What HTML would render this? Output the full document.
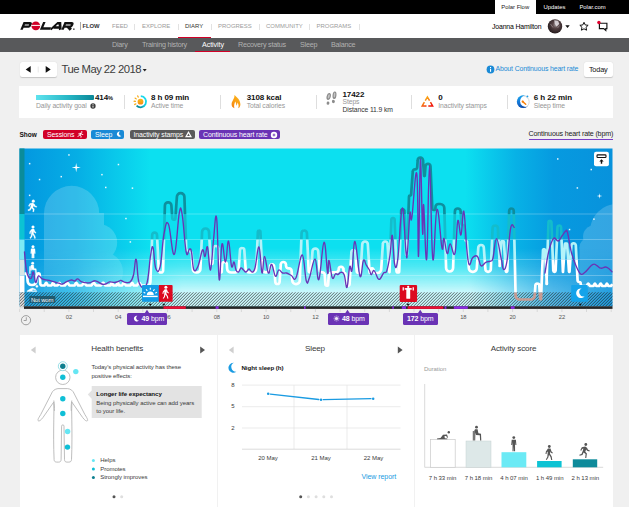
<!DOCTYPE html>
<html>
<head>
<meta charset="utf-8">
<title>Polar Flow</title>
<style>
*{box-sizing:border-box;margin:0;padding:0}
html,body{width:629px;height:507px;overflow:hidden;background:#f0f0f0;font-family:"Liberation Sans",sans-serif;color:#222}
div,span{position:absolute;white-space:nowrap}
#topbar{left:0;top:0;width:629px;height:14px;background:#000}
#topbar .tab{top:0;height:14px;font-size:5.9px;line-height:14px;color:#fff;text-align:center}
#topbar .tab.on{background:#fff;color:#222}
#header{left:0;top:14px;width:629px;height:24px;background:#fff}
.nav{top:0;height:24px;line-height:24.5px;font-size:5.95px;color:#9c9c9c;letter-spacing:.02px}
.nav.on{color:#333}
.sep{top:10px;width:1px;height:5.5px;background:#e2e2e2}
#sub{left:0;top:38px;width:629px;height:14px;background:#58595b}
.sn{top:0;height:13px;line-height:13.5px;font-size:7.2px;color:#b1b1b1;letter-spacing:-.25px}
.sn.on{color:#fff;letter-spacing:-.1px}
.btn{background:#fff;border-radius:2px;box-shadow:0 .5px 1px rgba(0,0,0,.18)}
.card{background:#fff}
.sv{font-weight:bold;font-size:8px;color:#111;line-height:8px;letter-spacing:-.1px}
.sl{font-size:6.8px;color:#979797;line-height:7px;letter-spacing:-.1px}
.vs{top:95px;width:1px;height:14px;background:#dedede}
.pill{top:129.5px;height:9.5px;border-radius:2px;color:#fff;font-size:6.950px;line-height:9.700px;padding-left:4px;letter-spacing:-.1px}
.ax{top:314px;font-size:5.8px;color:#555;line-height:6px;width:20px;text-align:center;letter-spacing:-.1px}
.tag{top:312.5px;height:12px;background:#6a33b5;border-radius:1.5px;color:#fff;font-size:7px;line-height:12px;letter-spacing:-.1px}
.tag b{font-weight:bold}
.ct{font-size:8.100px;color:#3a3a3a;line-height:10px;letter-spacing:-.150px}
.tx{font-size:6px;color:#3a3a3a;line-height:7px;letter-spacing:-.05px}
.dot{width:3px;height:3px;border-radius:50%;background:#dcdcdc}
</style>
</head>
<body>
<!-- TOP BAR -->
<div id="topbar">
  <div class="tab on" style="left:494.5px;width:41.5px">Polar Flow</div>
  <div class="tab" style="left:540px;width:29px">Updates</div>
  <div class="tab" style="left:576px;width:33px">Polar.com</div>
</div>
<!-- HEADER -->
<div id="header">
  <svg style="position:absolute;left:18px;top:6px" width="62" height="12" viewBox="18 20 62 12">
    <g transform="translate(0 29.700) skewX(-23) translate(0 -29.700)" fill="none" stroke="#111" stroke-width="2.450" stroke-linejoin="miter" stroke-linecap="butt">
      <path d="M21.500 29.700V23.200H26.600Q28.300 23.200 28.300 24.900Q28.300 26.600 26.600 26.600H22"/>
      <path d="M41.100 22V28.500H50"/>
      <path d="M50.600 29.700L54.800 23.200H57.200L60.300 29.700M53 27.500H59"/>
      <path d="M62.500 29.700V23.200H68.300Q70 23.200 70 24.900Q70 26.600 68.300 26.600H63M66.500 26.600L70.800 29.700"/>
    </g>
    <circle cx="35.800" cy="25.800" r="4.400" fill="#d10027"/>
    <rect x="31.200" y="24.900" width="9.200" height="1" fill="#fff"/>
    <rect x="73.200" y="28.500" width="1.300" height="1.300" fill="#111"/>
  </svg>
  <div style="left:79.5px;top:8px;width:1px;height:8px;background:#aaa"></div>
  <div style="left:82.5px;top:0;height:24px;line-height:25px;font-size:5.9px;font-weight:bold;color:#333;letter-spacing:-.1px">FLOW</div>
  <div class="nav" style="left:112px">FEED</div>
  <div class="sep" style="left:134px"></div>
  <div class="nav" style="left:142px">EXPLORE</div>
  <div class="sep" style="left:177.5px"></div>
  <div class="nav on" style="left:185px">DIARY</div>
  <div class="sep" style="left:210.5px"></div>
  <div class="nav" style="left:218px">PROGRESS</div>
  <div class="sep" style="left:258.5px"></div>
  <div class="nav" style="left:266px">COMMUNITY</div>
  <div class="sep" style="left:309px"></div>
  <div class="nav" style="left:316.5px">PROGRAMS</div>
  <div class="sep" style="left:358.5px"></div>
  <div style="left:178px;top:22.5px;width:33px;height:1.5px;background:#d10027"></div>
  <!-- user -->
  <div style="left:492px;top:0;height:24px;line-height:26px;font-size:6.9px;color:#000;letter-spacing:-.15px">Joanna Hamilton</div>
  <svg style="position:absolute;left:546px;top:4px" width="66" height="18" viewBox="546 18 66 18">
    <defs><radialGradient id="av" cx="55%" cy="40%" r="60%"><stop offset="0" stop-color="#a39a9c"/><stop offset=".35" stop-color="#5a4648"/><stop offset="1" stop-color="#241a1c"/></radialGradient></defs>
    <rect x="545" y="22" width=".8" height="8.500" fill="#ddd"/><circle cx="555" cy="26.400" r="7.200" fill="url(#av)"/>
    <path d="M554.300 20.200l3.800.600 1.200 3.200-2.700 2.600-2-3.200z" fill="#e8e2e6" opacity=".85"/><path d="M550.500 24l2.500 3.500M559.500 25.500l-2 2.500" stroke="#b9aeb2" stroke-width="1" opacity=".5"/>
    <path d="M565.3 25.2h4.4l-2.2 2.8z" fill="#111"/>
    <path d="M584 22.300l1.250 2.650 2.900.360-2.130 2 .560 2.900-2.580-1.400-2.580 1.400.560-2.900-2.130-2 2.900-.360z" fill="none" stroke="#111" stroke-width="1"/>
    <path d="M599.400 23.200h7.500v5.400h-1.100v1.900l-2.100-1.900h-4.300z" fill="none" stroke="#111" stroke-width="1.150"/>
    <circle cx="598.9" cy="22.5" r="1.7" fill="#e1002d"/>
  </svg>
</div>
<div id="sub">
  <div class="sn" style="left:112px">Diary</div>
  <div class="sn" style="left:142px">Training history</div>
  <div class="sn on" style="left:202px">Activity</div>
  <div class="sn" style="left:238px">Recovery status</div>
  <div class="sn" style="left:300px">Sleep</div>
  <div class="sn" style="left:331px">Balance</div>
  <div style="left:195px;top:12.5px;width:35px;height:1.5px;background:#d10027"></div>
</div>
<!-- DATE ROW -->
<div class="btn" style="left:19.5px;top:62px;width:37px;height:15px"></div>
<svg style="position:absolute;left:19px;top:62px" width="38" height="15" viewBox="19 62 38 15">
  <path d="M30.700 66v6.800l-5-3.400z" fill="#111"/><path d="M45.700 66v6.800l5-3.400z" fill="#111"/>
  <rect x="37.8" y="66.5" width=".7" height="6" fill="#ddd"/>
</svg>
<div style="left:61.5px;top:62px;height:15px;line-height:15.5px;font-size:11.300px;color:#3c3c3c;letter-spacing:-.540px">Tue May 22 2018</div>
<svg style="position:absolute;left:141px;top:66px" width="8" height="8" viewBox="0 0 8 8"><path d="M1.700 3h4l-2 2.500z" fill="#222"/></svg>
<svg style="position:absolute;left:486px;top:64.5px" width="9" height="9" viewBox="0 0 9 9"><circle cx="4.5" cy="4.5" r="3.9" fill="#1a8ad6"/><rect x="4" y="3.8" width="1.1" height="3" fill="#fff"/><rect x="4" y="2" width="1.1" height="1.1" fill="#fff"/></svg>
<div style="left:495.5px;top:62px;height:15px;line-height:14.5px;font-size:6.900px;color:#1a8ad6;letter-spacing:-.130px">About Continuous heart rate</div>
<div class="btn" style="left:584px;top:62px;width:28.5px;height:15px;text-align:center;font-size:7.3px;line-height:15.5px;color:#111;letter-spacing:-.15px">Today</div>
<!-- STATS BAR -->
<div class="card" style="left:19px;top:86px;width:593.5px;height:32px"></div>
<div style="left:36px;top:95px;width:57.5px;height:5.400px;border-radius:0 1px 1px 0;background:linear-gradient(90deg,#5fe3ee 0%,#27b7c6 55%,#0a8797 100%)"></div>
<div class="sv" style="left:95px;top:94.2px">414<span style="position:static;font-size:5.6px">%</span></div>
<div class="sl" style="left:36px;top:102.3px">Daily activity goal</div>
<svg style="position:absolute;left:90.100px;top:102.700px" width="6" height="6" viewBox="0 0 6 6"><circle cx="3" cy="3" r="2.650" fill="#3c3c3c"/><rect x="2.550" y="2.600" width=".9" height="2" fill="#fff"/><rect x="2.550" y="1.200" width=".9" height=".9" fill="#fff"/></svg>
<div class="vs" style="left:124px"></div>
<!-- sun icon -->
<svg style="position:absolute;left:132px;top:93px" width="17" height="17" viewBox="132 93 17 17">
  <defs><linearGradient id="sa" x1="1" y1="0" x2="0" y2="1"><stop offset="0" stop-color="#20e4f3"/><stop offset=".5" stop-color="#14c8de"/><stop offset=".8" stop-color="#0c93a4"/><stop offset="1" stop-color="#0b8595"/></linearGradient>
  <linearGradient id="sg" x1="0" y1="0" x2="0" y2="1"><stop offset="0" stop-color="#f9b51c"/><stop offset=".6" stop-color="#f8a314"/><stop offset="1" stop-color="#f5820f"/></linearGradient></defs>
  <path d="M140.800 96.100A5.600 5.600 0 1 1 136.600 105.700" fill="none" stroke="url(#sa)" stroke-width="1.800"/>
  <circle cx="140.500" cy="101.700" r="2.900" fill="url(#sg)"/>
  <g fill="#f8ac18"><ellipse cx="137.96" cy="96.49" rx="1.35" ry=".7" transform="rotate(-116 137.96 96.49)"/><ellipse cx="135.69" cy="98.46" rx="1.35" ry=".7" transform="rotate(-146 135.69 98.46)"/><ellipse cx="134.71" cy="101.30" rx="1.35" ry=".7" transform="rotate(-176 134.71 101.30)"/><ellipse cx="135.29" cy="104.24" rx="1.35" ry=".7" transform="rotate(154 135.29 104.24)"/></g>
</svg>
<div class="sv" style="left:151px;top:94.2px">8 h 09 min</div>
<div class="sl" style="left:151px;top:102.3px">Active time</div>
<div class="vs" style="left:220px"></div>
<!-- flame -->
<svg style="position:absolute;left:229px;top:93px" width="13" height="17" viewBox="229 93 13 17">
  <defs><linearGradient id="fg" x1=".7" y1="0" x2=".2" y2="1"><stop offset="0" stop-color="#fbb418"/><stop offset=".55" stop-color="#f99d14"/><stop offset="1" stop-color="#f5800f"/></linearGradient></defs>
  <path d="M234.400 94.900C236.600 96.800 240.600 100 240.400 104.500C240.300 106.300 239.600 107.700 238.300 108.200C238.900 106 238.600 104 237.400 102.500C237.400 104 237 105 236.300 105.700C236.300 103.800 235.900 102.400 235.200 101.600C234.600 103.500 233.600 105.600 234.400 108.200C232.500 107.700 231.500 106 231.600 104C231.800 100.500 234.900 98.500 234.400 94.900Z" fill="url(#fg)"/>
</svg>
<div class="sv" style="left:246.7px;top:94.2px">3108 kcal</div>
<div class="sl" style="left:246.7px;top:102.3px">Total calories</div>
<div class="vs" style="left:316px"></div>
<!-- steps -->
<svg style="position:absolute;left:324px;top:90px" width="15" height="17" viewBox="324 90 15 17">
  <g fill="#8c8c8c">
   <ellipse cx="328.700" cy="96.500" rx="2.050" ry="3.600" transform="rotate(14 328.700 96.500)"/><ellipse cx="328" cy="103.200" rx="1.400" ry="1.650" transform="rotate(10 328 103.200)"/>
   <ellipse cx="334.500" cy="95.200" rx="1.950" ry="3.800" transform="rotate(6 334.500 95.200)"/><ellipse cx="333.400" cy="101.500" rx="1.500" ry="1.650" transform="rotate(10 333.400 101.500)"/>
  </g>
  <g fill="#c4c4c4"><ellipse cx="328.800" cy="96.300" rx=".9" ry="2.200" transform="rotate(14 328.800 96.300)"/><ellipse cx="334.500" cy="95" rx=".8" ry="2.400" transform="rotate(6 334.500 95)"/></g>
</svg>
<div class="sv" style="left:342.5px;top:90.8px">17422</div>
<div class="sl" style="left:342.5px;top:98.200px">Steps</div>
<div class="sl" style="left:342.5px;top:105.900px;color:#333">Distance 11.9 km</div>
<div class="vs" style="left:411px"></div>
<!-- triangle -->
<svg style="position:absolute;left:420px;top:93px" width="15" height="16" viewBox="420 93 15 16">
  <defs><linearGradient id="tg" x1="0" y1="0" x2=".75" y2="1"><stop offset="0" stop-color="#fdc21a"/><stop offset=".45" stop-color="#f88a12"/><stop offset="1" stop-color="#f0150a"/></linearGradient></defs>
  <path d="M427.400 96.900L432.600 105.900H422.200Z" fill="none" stroke="url(#tg)" stroke-width="1.500" stroke-linejoin="miter" stroke-dasharray="4.300 1.800 8.600 1.800 8.600 1.800 4.300 0"/>
</svg>
<div class="sv" style="left:438.300px;top:94.200px">0</div>
<div class="sl" style="left:438.300px;top:102.300px">Inactivity stamps</div>
<div class="vs" style="left:507px"></div>
<!-- sleep clock -->
<svg style="position:absolute;left:515px;top:93px" width="16" height="17" viewBox="515 93 16 17">
  <defs><linearGradient id="mg" x1=".3" y1="0" x2=".5" y2="1"><stop offset="0" stop-color="#1aa5ee"/><stop offset=".5" stop-color="#1478d8"/><stop offset="1" stop-color="#0a48aa"/></linearGradient>
  <mask id="mm"><rect x="515" y="93" width="16" height="17" fill="#fff"/><circle cx="526" cy="101.200" r="5.900" fill="#000"/></mask></defs>
  <circle cx="523.300" cy="101.800" r="5.900" fill="none" stroke="#cfcfcf" stroke-width=".8"/>
  <circle cx="523.200" cy="101.700" r="6.400" fill="url(#mg)" mask="url(#mm)"/>
  <circle cx="527.400" cy="96.400" r=".95" fill="#1a9be8"/>
  <circle cx="522.700" cy="101.600" r="1.100" fill="#f77f0a"/>
  <path d="M522.700 101.600l3 2.600" stroke="#f77f0a" stroke-width="1.500" stroke-linecap="round"/>
</svg>
<div class="sv" style="left:533.800px;top:94.200px">6 h 22 min</div>
<div class="sl" style="left:533.800px;top:102.300px">Sleep time</div>
<!-- SHOW ROW -->
<div style="left:19.500px;top:129.500px;line-height:9.600px;font-size:6.500px;font-weight:bold;color:#111;letter-spacing:-.05px">Show</div>
<div class="pill" style="left:43px;width:43.500px;background:#d10027">Sessions</div>
<svg style="position:absolute;left:76.500px;top:131px" width="7.600" height="6.800" viewBox="0 0 9 8"><g fill="#fff"><circle cx="5.600" cy="1.200" r=".9"/><path d="M2.200 2.300l2.600-.3 1.300 1.500 1.400.3-.2.800-1.800-.3-.7-.7-.6 1.500 1.300 1.100-.5 1.700h-.9l.4-1.400-1.700-1.100-1.200 1.400-1.300-.4.300-.6.800.2 1.300-1.700.5-1.400-1 .1-.6 1-.6-.3z"/></g></svg>
<div class="pill" style="left:91px;width:33px;background:#1a8ad6">Sleep</div>
<svg style="position:absolute;left:116px;top:131.200px" width="6.500" height="6.500" viewBox="0 0 8 8"><path d="M4.800 .8a3.200 3.200 0 1 0 1.800 5.400a3 3 0 0 1 -1.800 -5.400z" fill="#fff"/></svg>
<div class="pill" style="left:129.500px;width:65px;background:#5a5a5a">Inactivity stamps</div>
<svg style="position:absolute;left:185px;top:131.200px" width="7" height="7" viewBox="0 0 8 8"><path d="M4 1.500l2.800 5h-5.600z" fill="none" stroke="#fff" stroke-width="1.400"/></svg>
<div class="pill" style="left:199px;width:80.500px;background:#6a33b5">Continuous heart rate</div>
<svg style="position:absolute;left:269.500px;top:130.600px" width="8" height="8" viewBox="0 0 9 9"><circle cx="4.500" cy="4.500" r="3.600" fill="#fff"/><path d="M4.500 2.300l.6 1.600 1.600.6-1.600.6-.6 1.600-.6-1.600-1.600-.6 1.600-.6z" fill="#6a33b5"/></svg>
<div style="left:528.500px;top:129.500px;line-height:9.600px;font-size:7.100px;color:#222;letter-spacing:-.150px">Continuous heart rate (bpm)</div>
<div style="left:528.500px;top:139px;width:84px;height:1.200px;background:#7a3fc5"></div>

<!-- CHART -->
<svg style="position:absolute;left:0;top:140px" width="629" height="190" viewBox="0 140 629 190">
<defs>
 <linearGradient id="bg" x1="24" x2="612.5" y1="0" y2="0" gradientUnits="userSpaceOnUse">
  <stop offset="0" stop-color="#0398e0"/><stop offset=".09" stop-color="#06aee5"/><stop offset=".215" stop-color="#0ce0f0"/><stop offset=".75" stop-color="#0ce0f0"/><stop offset=".835" stop-color="#08b2e6"/><stop offset=".9" stop-color="#069ae0"/><stop offset="1" stop-color="#0892dc"/>
 </linearGradient>
 <linearGradient id="wv" x1="0" x2="0" y1="148" y2="306" gradientUnits="userSpaceOnUse">
  <stop offset="0" stop-color="#fff" stop-opacity="0"/><stop offset=".63" stop-color="#fff" stop-opacity="0"/><stop offset=".75" stop-color="#fff" stop-opacity=".27"/><stop offset=".91" stop-color="#fff" stop-opacity=".78"/><stop offset="1" stop-color="#fff" stop-opacity=".8"/>
 </linearGradient>
 <linearGradient id="wh" x1="24" x2="612" y1="0" y2="0" gradientUnits="userSpaceOnUse">
  <stop offset="0" stop-color="#fff" stop-opacity=".15"/><stop offset=".08" stop-color="#fff" stop-opacity=".27"/><stop offset=".2" stop-color="#fff" stop-opacity=".72"/><stop offset=".27" stop-color="#fff" stop-opacity="1"/><stop offset=".76" stop-color="#fff" stop-opacity="1"/><stop offset=".88" stop-color="#fff" stop-opacity=".45"/><stop offset="1" stop-color="#fff" stop-opacity=".12"/>
 </linearGradient>
 <mask id="mh"><rect x="19" y="148" width="594" height="160" fill="url(#wh)"/></mask>
 <pattern id="hatch" x="0" y="0" width="3" height="3" patternUnits="userSpaceOnUse">
  <g fill="#1c1c1c" fill-opacity=".5"><rect x="2" y="0" width="1" height="1"/><rect x="1" y="1" width="1" height="1"/><rect x="0" y="2" width="1" height="1"/></g>
  <g fill="#1c1c1c" fill-opacity=".17"><rect x="1" y="0" width="1" height="1"/><rect x="0" y="1" width="1" height="1"/><rect x="2" y="2" width="1" height="1"/></g>
 </pattern>
 <linearGradient id="cg" x1="0" x2="0" y1="185" y2="300" gradientUnits="userSpaceOnUse"><stop offset="0" stop-color="#fff"/><stop offset=".55" stop-color="#fff"/><stop offset="1" stop-color="#000"/></linearGradient>
 <mask id="cm"><rect x="19" y="148" width="594" height="160" fill="url(#cg)"/></mask>
 <clipPath id="c1"><rect x="19" y="140" width="594" height="74"/></clipPath>
 <clipPath id="c2"><rect x="19" y="214" width="594" height="25.5"/></clipPath>
 <clipPath id="c3"><rect x="19" y="239.5" width="594" height="20"/></clipPath>
 <clipPath id="c4"><rect x="19" y="259.5" width="594" height="33"/></clipPath>
 <clipPath id="c5"><rect x="19" y="292.500" width="594" height="14"/></clipPath>
 <path id="act" d="M24.5 273.6 L25.8 273.6 A1.3 1.3 0 0 1 27.2 274.9 L27.6 281.0 A4.0 4.0 0 0 0 31.9 285.0 L32.1 285.0 A4.0 4.0 0 0 0 36.4 281.0 L36.8 274.6 A1.3 1.3 0 0 1 38.2 273.3 L38.2 273.3 A1.3 1.3 0 0 1 39.7 274.6 L40.3 283.7 A1.8 1.8 0 0 0 42.2 285.5 L44.0 285.5 L44.5 285.5 L45.1 284.6 L45.7 283.4 L46.3 282.9 L46.9 283.6 L47.5 284.8 L48.1 285.5 L48.7 285.5 L49.3 285.5 L49.9 285.5 L50.5 285.5 L51.1 285.5 L51.7 285.3 L52.3 284.0 L52.9 282.9 L53.5 283.4 L54.1 284.8 L54.7 285.5 L55.3 285.5 L55.9 285.5 L56.5 285.5 L57.1 285.5 L57.7 285.3 L58.3 284.3 L58.9 283.2 L59.5 282.9 L60.1 283.6 L60.7 284.8 L61.3 285.5 L61.9 285.5 L62.5 285.5 L63.1 285.5 L63.7 285.5 L64.3 285.5 L64.9 285.5 L65.5 284.9 L66.1 283.9 L66.7 283.1 L67.3 282.9 L67.9 283.3 L68.5 284.1 L69.1 285.1 L69.7 285.5 L70.3 285.5 L70.9 285.5 L71.5 285.5 L72.1 285.5 L72.7 285.5 L73.3 285.5 L73.9 285.5 L74.5 285.4 L75.1 284.5 L75.7 283.3 L76.3 282.9 L76.9 283.5 L77.5 284.6 L78.1 285.5 L78.7 285.5 L79.3 285.5 L79.9 285.5 L80.5 285.5 L81.1 285.5 L81.7 285.5 L82.3 285.0 L82.9 284.1 L83.5 283.3 L84.1 282.9 L84.7 283.2 L85.3 284.0 L85.9 284.9 L86.5 285.5 L87.1 285.5 L87.7 285.5 L88.3 285.5 L88.9 285.5 L89.5 285.5 L90.1 285.5 L90.7 285.5 L91.3 285.5 L91.9 284.9 L92.5 283.9 L93.1 283.2 L93.7 282.9 L94.3 283.3 L94.9 284.1 L95.5 285.0 L96.1 285.5 L96.7 285.5 L97.3 285.5 L97.9 285.5 L98.5 285.5 L99.1 285.5 L99.7 285.5 L100.3 285.5 L100.9 285.4 L101.5 284.7 L102.1 283.8 L102.7 283.1 L103.3 282.9 L103.9 283.4 L104.5 284.3 L105.1 285.2 L105.7 285.5 L106.3 285.5 L106.9 285.5 L107.5 285.5 L108.1 285.5 L108.7 285.5 L109.3 285.5 L109.9 285.5 L110.5 285.4 L111.1 284.0 L111.7 283.0 L112.3 283.3 L112.9 284.8 L113.5 285.5 L114.1 285.5 L114.7 285.5 L115.3 285.5 L115.9 285.5 L116.5 285.4 L117.1 283.9 L117.7 282.9 L118.3 283.7 L118.9 285.2 L119.5 285.5 L120.1 285.5 L120.7 285.5 L121.3 285.5 L121.9 285.5 L122.5 284.7 L123.1 283.7 L123.7 283.0 L124.3 283.0 L124.9 283.8 L125.5 284.8 L126.1 285.5 L126.7 285.5 L127.3 285.5 L127.9 285.5 L128.5 285.5 L129.1 285.5 L129.7 285.5 L130.3 285.5 L130.9 284.9 L131.5 283.6 L132.1 282.9 L132.7 283.5 L133.3 284.9 L133.9 285.5 L134.5 285.5 L135.1 285.5 L135.7 285.5 L136.3 285.5 L136.9 285.5 L137.5 284.7 L138.1 283.7 L138.7 283.1 L139.3 282.9 L139.9 283.4 L140.5 284.3 L141.1 285.2 L141.7 285.5 L142.3 285.5 L142.9 285.5 L143.5 285.5 L146.9 285.5 A3.4 3.4 0 0 0 150.4 282.1 L152.2 235.0 A2.3 2.3 0 0 1 154.6 232.7 L154.6 232.7 A2.3 2.3 0 0 1 157.0 235.0 L158.8 270.5 A2.0 2.0 0 0 0 160.9 272.5 L160.9 272.5 A2.0 2.0 0 0 0 163.1 270.5 L164.9 205.5 A3.1 3.1 0 0 1 168.1 202.4 L168.1 202.4 A3.1 3.1 0 0 1 171.4 205.5 L172.3 218.3 A1.4 1.4 0 0 0 173.8 219.7 L173.8 219.7 A1.4 1.4 0 0 0 175.4 218.3 L176.9 196.8 A3.6 3.6 0 0 1 180.7 193.2 L180.7 193.2 A3.6 3.6 0 0 1 184.4 196.8 L186.2 248.4 A2.6 2.6 0 0 0 188.9 251.0 L188.9 251.0 A2.6 2.6 0 0 1 191.7 253.6 L192.8 268.9 A3.6 3.6 0 0 0 196.6 272.5 L196.6 272.5 A3.6 3.6 0 0 0 200.4 268.9 L202.1 231.8 A3.3 3.3 0 0 1 205.5 228.5 L205.5 228.5 A3.3 3.3 0 0 1 209.0 231.8 L210.8 263.2 A0.8 0.8 0 0 0 211.6 264.0 L211.6 264.0 A0.8 0.8 0 0 0 212.4 263.2 L213.5 248.2 A2.2 2.2 0 0 1 215.8 246.0 L215.8 246.0 A2.2 2.2 0 0 1 218.2 248.2 L219.9 271.7 A0.8 0.8 0 0 0 220.8 272.5 L220.8 272.5 A0.8 0.8 0 0 0 221.7 271.7 L222.2 264.1 A2.1 2.1 0 0 1 224.5 262.0 L224.5 262.0 A2.1 2.1 0 0 1 226.8 264.1 L227.1 268.5 A4.0 4.0 0 0 0 231.4 272.5 L234.4 272.5 A4.0 4.0 0 0 0 238.7 268.5 L240.0 250.0 A2.0 2.0 0 0 1 242.2 248.0 L242.2 248.0 A2.0 2.0 0 0 1 244.3 250.0 L245.6 268.5 A4.0 4.0 0 0 0 249.9 272.5 L252.0 272.5 A4.0 4.0 0 0 0 256.2 268.5 L257.9 231.6 A1.2 1.2 0 0 1 259.1 230.5 L259.1 230.5 A1.2 1.2 0 0 1 260.4 231.6 L262.1 268.6 A3.7 3.7 0 0 0 266.0 272.3 L266.0 272.3 A3.7 3.7 0 0 0 270.0 268.6 L270.1 266.3 A1.9 1.9 0 0 1 272.1 264.4 L272.1 264.4 A1.9 1.9 0 0 1 274.1 266.3 L275.3 282.0 A2.0 2.0 0 0 0 277.4 284.0 L277.4 284.0 A2.0 2.0 0 0 0 279.6 282.0 L280.8 264.4 A2.4 2.4 0 0 1 283.4 262.0 L283.4 262.0 A2.4 2.4 0 0 1 285.9 264.4 L286.0 265.8 A2.6 2.6 0 0 0 288.8 268.4 L288.8 268.4 A2.6 2.6 0 0 1 291.6 271.0 L292.3 280.5 A3.6 3.6 0 0 0 296.1 284.1 L296.1 284.1 A3.6 3.6 0 0 0 299.8 280.5 L301.6 233.0 A2.6 2.6 0 0 1 304.2 230.5 L304.2 230.5 A2.6 2.6 0 0 1 306.9 233.0 L308.7 271.2 A1.1 1.1 0 0 0 309.9 272.3 L309.9 272.3 A1.1 1.1 0 0 0 311.0 271.2 L312.5 251.3 A2.7 2.7 0 0 1 315.4 248.6 L315.4 248.6 A2.7 2.7 0 0 1 318.2 251.3 L319.6 269.9 A2.4 2.4 0 0 0 322.1 272.3 L322.1 272.3 A2.4 2.4 0 0 1 324.7 274.7 L325.4 284.4 A1.3 1.3 0 0 0 326.8 285.7 L326.8 285.7 A1.3 1.3 0 0 0 328.1 284.4 L328.7 276.3 A4.0 4.0 0 0 1 333.0 272.3 L335.7 272.3 A2.8 2.8 0 0 0 338.7 269.6 L338.7 269.0 A2.2 2.2 0 0 1 341.1 266.8 L341.1 266.8 A2.2 2.2 0 0 1 343.4 269.0 L343.7 272.2 A0.8 0.8 0 0 0 344.5 273.0 L344.5 273.0 A0.8 0.8 0 0 1 345.4 273.8 L346.1 284.1 A1.6 1.6 0 0 0 347.9 285.7 L347.9 285.7 A1.6 1.6 0 0 0 349.6 284.1 L351.4 252.0 A1.8 1.8 0 0 1 353.3 250.2 L353.3 250.2 A1.8 1.8 0 0 1 355.3 252.0 L356.7 271.2 A1.8 1.8 0 0 0 358.7 273.0 L358.7 273.0 A1.8 1.8 0 0 0 360.6 271.2 L362.3 244.0 A2.6 2.6 0 0 1 365.1 241.5 L365.1 241.5 A2.6 2.6 0 0 1 367.8 244.0 L369.6 272.6 A0.4 0.4 0 0 0 370.0 273.0 L370.0 273.0 A0.4 0.4 0 0 0 370.4 272.6 L370.6 269.7 A1.3 1.3 0 0 1 372.0 268.4 L372.0 268.4 A1.3 1.3 0 0 1 373.4 269.7 L373.5 270.7 A2.3 2.3 0 0 0 376.0 273.0 L377.3 273.0 A3.7 3.7 0 0 0 381.2 269.3 L382.9 243.7 A2.2 2.2 0 0 1 385.2 241.5 L385.2 241.5 A2.2 2.2 0 0 1 387.5 243.7 L389.4 272.0 A0.1 0.1 0 0 0 389.4 272.0 L389.4 272.0 A0.1 0.1 0 0 0 389.5 272.0 L391.4 219.5 A1.5 1.5 0 0 1 393.0 218.0 L393.0 218.0 A1.5 1.5 0 0 1 394.6 219.5 L396.5 271.2 A1.3 1.3 0 0 0 397.9 272.5 L397.9 272.5 A1.3 1.3 0 0 0 399.2 271.2 L401.2 210.9 A1.5 1.5 0 0 1 402.7 209.4 L402.7 209.4 A1.5 1.5 0 0 1 404.3 210.9 L406.2 254.6 A0.4 0.4 0 0 0 406.6 255.0 L406.6 255.0 A0.4 0.4 0 0 0 407.0 254.6 L409.0 196.6 A1.0 1.0 0 0 1 410.0 195.6 L410.0 195.6 A1.0 1.0 0 0 0 411.1 194.6 L412.8 171.4 A2.1 2.1 0 0 1 415.0 169.3 L415.0 169.3 A2.1 2.1 0 0 0 417.2 167.2 L417.7 160.2 A2.5 2.5 0 0 1 420.4 157.7 L420.4 157.7 A2.5 2.5 0 0 1 423.0 160.2 L424.1 175.7 A0.3 0.3 0 0 0 424.5 176.0 L424.5 176.0 A0.3 0.3 0 0 0 424.8 175.7 L425.5 166.2 A2.4 2.4 0 0 1 428.0 163.8 L428.0 163.8 A2.4 2.4 0 0 1 430.5 166.2 L432.3 208.6 A1.4 1.4 0 0 0 433.8 210.0 L433.8 210.0 A1.4 1.4 0 0 0 435.4 208.6 L435.5 207.0 A3.0 3.0 0 0 1 438.7 204.0 L440.2 204.0 A4.0 4.0 0 0 1 444.3 208.0 L446.1 268.1 A3.4 3.4 0 0 0 449.6 271.5 L449.6 271.5 A3.4 3.4 0 0 0 453.1 268.1 L454.9 211.2 A2.7 2.7 0 0 1 457.7 208.5 L457.7 208.5 A2.7 2.7 0 0 1 460.6 211.2 L461.5 223.6 A1.4 1.4 0 0 0 463.0 225.0 L463.0 225.0 A1.4 1.4 0 0 1 464.5 226.4 L465.5 240.3 A0.7 0.7 0 0 0 466.3 241.0 L466.3 241.0 A0.7 0.7 0 0 1 467.0 241.7 L468.8 268.0 A3.8 3.8 0 0 0 472.8 271.8 L472.8 271.8 A3.8 3.8 0 0 0 476.8 268.0 L478.3 247.6 A2.6 2.6 0 0 1 481.1 245.0 L481.1 245.0 A2.6 2.6 0 0 1 483.8 247.6 L485.4 269.2 A2.6 2.6 0 0 0 488.1 271.8 L488.1 271.8 A2.6 2.6 0 0 0 490.8 269.2 L492.6 228.0 A2.6 2.6 0 0 1 495.2 225.5 L495.2 225.5 A2.6 2.6 0 0 1 497.9 228.0 L499.8 265.9 A0.1 0.1 0 0 1 499.7 266.0 L499.7 266.0 A0.1 0.1 0 0 1 499.6 265.9 L501.3 242.2 A1.2 1.2 0 0 1 502.6 241.0 L502.6 241.0 A1.2 1.2 0 0 1 503.9 242.2 L505.8 271.1 A0.8 0.8 0 0 0 506.6 271.8 L506.6 271.8 A0.8 0.8 0 0 0 507.3 271.1 L509.2 210.7 A2.2 2.2 0 0 1 511.5 208.5 L511.5 208.5 A2.2 2.2 0 0 1 513.7 210.7 L515.6 295.5 A4.0 4.0 0 0 0 519.7 299.5 L530.4 299.5 A4.0 4.0 0 0 0 534.7 295.5 L535.4 285.4 A1.8 1.8 0 0 1 537.4 283.6 L537.4 283.6 A1.8 1.8 0 0 1 539.3 285.4 L540.2 299.1 A0.4 0.4 0 0 0 540.6 299.5 L540.6 299.5 A0.4 0.4 0 0 0 541.0 299.1 L543.0 250.1 A0.9 0.9 0 0 1 544.0 249.2 L544.0 249.2 A0.9 0.9 0 0 1 545.0 250.1 L546.9 283.8 A0.2 0.2 0 0 1 546.7 284.0 L546.7 284.0 A0.2 0.2 0 0 1 546.5 283.8 L548.5 222.2 A1.4 1.4 0 0 1 549.9 220.8 L549.9 220.8 A1.4 1.4 0 0 1 551.4 222.2 L553.3 270.7 A1.2 1.2 0 0 0 554.5 271.8 L554.5 271.8 A1.2 1.2 0 0 0 555.6 270.7 L557.5 227.1 A1.6 1.6 0 0 1 559.2 225.5 L559.2 225.5 A1.6 1.6 0 0 1 561.0 227.1 L562.9 271.8 A0.1 0.1 0 0 0 563.0 271.8 L563.0 271.8 A0.1 0.1 0 0 0 563.0 271.8 L564.9 244.3 A1.0 1.0 0 0 1 566.0 243.3 L566.0 243.3 A1.0 1.0 0 0 1 567.1 244.3 L569.0 271.6 A0.2 0.2 0 0 0 569.2 271.8 L569.2 271.8 A0.2 0.2 0 0 0 569.5 271.6 L571.4 245.4 A2.1 2.1 0 0 1 573.6 243.3 L573.6 243.3 A2.1 2.1 0 0 1 575.8 245.4 L577.6 280.6 A1.4 1.4 0 0 0 579.1 282.0 L579.1 282.0 A1.4 1.4 0 0 1 580.7 283.4 L580.7 284.0 A2.0 2.0 0 0 0 582.8 286.0 L586.0 286.0 L586.5 286.0 L587.1 285.2 L587.7 284.0 L588.3 283.6 L588.9 284.2 L589.5 285.4 L590.1 286.0 L590.7 286.0 L591.3 286.0 L591.9 286.0 L592.5 286.0 L593.1 286.0 L593.7 285.8 L594.3 284.4 L594.9 283.6 L595.5 284.4 L596.1 285.8 L596.7 286.0 L597.3 286.0 L597.9 286.0 L598.5 286.0 L599.1 286.0 L599.7 284.9 L600.3 283.8 L600.9 283.7 L601.5 284.7 L602.1 285.9 L602.7 286.0 L603.3 286.0 L603.9 286.0 L604.5 286.0 L605.1 286.0 L605.7 285.9 L606.3 284.5 L606.9 283.6 L607.5 284.3 L608.1 285.8 L608.7 286.0 L609.3 286.0 L609.9 286.0 L610.5 286.0 L611.1 286.0 L611.7 285.1 L612.3 284.1"/>
 <clipPath id="cc"><rect x="24.500" y="148.500" width="588" height="158"/></clipPath>
</defs>
<rect x="19.500" y="148.500" width="593" height="158" fill="url(#bg)"/>
<g clip-path="url(#cc)">
 <!-- clouds -->
 <g opacity=".18" fill="#fff" mask="url(#cm)">
  <circle cx="71.600" cy="213.400" r="27.600"/><circle cx="98.700" cy="242.600" r="18.500"/><circle cx="103" cy="272" r="20"/>
  <rect x="44" y="213" width="60" height="95"/>
  <circle cx="617" cy="231" r="27"/><circle cx="594" cy="236.500" r="11"/><circle cx="588.500" cy="247" r="9"/>
  <rect x="579.500" y="247" width="40" height="60"/>
 </g>
 <rect x="19" y="148" width="594" height="158.500" fill="url(#wv)" mask="url(#mh)"/>
 <g stroke="#fff" stroke-opacity=".38" stroke-width=".7">
  <path d="M24 214h589M24 239.500h589M24 259.500h589M24 275.500h589"/>
 </g>
 <rect x="68.2" y="154.2" width="1.5" height="1.5" fill="#fff" opacity=".9"/><rect x="28.9" y="162.9" width="1.5" height="1.5" fill="#fff" opacity=".9"/><rect x="38.8" y="178.8" width="1.5" height="1.5" fill="#fff" opacity=".9"/><rect x="60.5" y="175.9" width="1.5" height="1.5" fill="#fff" opacity=".9"/><rect x="101.2" y="173.9" width="1.5" height="1.5" fill="#fff" opacity=".9"/><rect x="117.7" y="163.8" width="1.5" height="1.5" fill="#fff" opacity=".9"/><rect x="105.0" y="186.7" width="1.5" height="1.5" fill="#fff" opacity=".9"/><rect x="131.7" y="187.4" width="1.5" height="1.5" fill="#fff" opacity=".9"/><rect x="28.9" y="194.6" width="1.5" height="1.5" fill="#fff" opacity=".9"/><rect x="125.2" y="217.8" width="1.5" height="1.5" fill="#fff" opacity=".9"/><rect x="129.6" y="241.2" width="1.5" height="1.5" fill="#fff" opacity=".9"/><rect x="151.2" y="250.9" width="1.5" height="1.5" fill="#fff" opacity=".9"/><rect x="557.0" y="158.2" width="1.5" height="1.5" fill="#fff" opacity=".9"/><rect x="590.5" y="168.8" width="1.5" height="1.5" fill="#fff" opacity=".9"/><rect x="576.6" y="187.2" width="1.5" height="1.5" fill="#fff" opacity=".9"/><rect x="593.2" y="218.4" width="1.5" height="1.5" fill="#fff" opacity=".9"/><rect x="568.8" y="228.8" width="1.5" height="1.5" fill="#fff" opacity=".9"/><path d="M76.2 163.0L76.94 166.86L80.8 167.6L76.94 168.34L76.2 172.2L75.46 168.34L71.6 167.6L75.46 166.86Z" fill="#fff"/><path d="M599.5 193.2L599.95 195.55L602.3 196.0L599.95 196.45L599.5 198.8L599.05 196.45L596.7 196.0L599.05 195.55Z" fill="#fff"/>
</g>
<!-- left strip -->
<rect x="19.500" y="148.500" width="5" height="65.500" fill="#0b8c9a"/>
<rect x="19.500" y="214" width="5" height="25.500" fill="#0cc3d3"/>
<rect x="19.500" y="239.500" width="5" height="20" fill="#7ceaf4"/>
<rect x="19.500" y="259.500" width="5" height="16" fill="#d6e6e6"/>
<rect x="19.500" y="275.500" width="5" height="17" fill="#fff"/>
<rect x="19.500" y="292.300" width="5" height="16.200" fill="#ddd"/>
<!-- hatch -->
<rect x="19.500" y="292.300" width="593" height="14.200" fill="url(#hatch)"/>
<!-- activity icons (white) -->
<g fill="#fff" stroke="#fff" stroke-width=".35" stroke-linejoin="round" transform="translate(1.500 0)">
 <!-- runner -->
 <circle cx="31.800" cy="201.200" r="1.350"/>
 <path d="M28.300 203.600l3-.7 1.600 1.200.9 1.800 1.500.4-.3 1-2-.5-.9-1.300-.7 2 1.400 1.500-.5 2.800-1 -.1.300-2.300-1.700-1.400-1 2.200-2.300.5-.2-1 1.700-.5 1.100-2.700.5-1.900-1.100.3-.7 1.500-.9-.4z"/>
 <!-- walker -->
 <circle cx="31.500" cy="227" r="1.350"/>
 <path d="M30.300 228.900h2.200l.9 2.600 1.200 1-.5.800-1.500-1.100-.4-1 -.2 2.200 1.500 2.500.5 2.300-1 .2-.6-2.200-1.300-1.900-.6 2.300-1.400 1.900-.8-.6 1.300-1.800.5-4.800-.9.800-.3 1.600-.9-.2.400-2.100z"/>
 <!-- standing -->
 <circle cx="31.500" cy="246.800" r="1.350"/>
 <path d="M29.600 248.800h3.800l.4 4.600h-.9l-.3-2.600.1 7.300h-1l-.2-4.300-.2 4.300h-1l.1-7.300-.3 2.600h-.9z"/>
 <!-- sitting -->
 <circle cx="31.200" cy="263.300" r="1.300"/>
 <path d="M29.800 265.100h2.300l.5 3.400 2.100.3.400 4.800h-1l-.3-3.600-3.100-.2-.4-2.300-.2 2.800h-1l.1-4.200z M28 266.500h.8v7.100h-.8z"/>
 <!-- lying -->
 <circle cx="35.400" cy="286.300" r="1.150"/>
 <path transform="translate(0 1.700)" d="M25.500 289.300l3.500-2.200 2-.7 3.200 1.200-.3.800-2.600-.5-.5 1.300 4.200-.3.400 1h-9.900z"/>
</g>
<!-- activity line zones -->
<g fill="none" stroke-width="2.700" stroke-linejoin="round">
 <g clip-path="url(#c1)"><use href="#act" stroke="#0f8b9a" stroke-opacity=".96"/></g>
 <g clip-path="url(#c2)"><use href="#act" stroke="#14bccb"/></g>
 <g clip-path="url(#c3)"><use href="#act" stroke="#b4f3f9"/></g>
 <g clip-path="url(#c4)"><use href="#act" stroke="#ffffff"/></g>
 <g clip-path="url(#c5)"><use href="#act" stroke="#c79b93"/></g>
</g>
<!-- HR line -->
<g fill="none" stroke="#6a35b6" stroke-width="1.350" stroke-linejoin="round" stroke-linecap="round">
 <path d="M24.5 252.0 C24.8 255.4 25.4 263.7 26.2 268.8 C27.0 273.9 27.4 274.9 28.5 276.8 C29.6 278.7 30.4 279.0 31.4 278.0 C32.4 277.0 32.4 271.1 33.3 272.0 C34.2 272.9 34.7 281.6 35.7 282.4 C36.7 283.2 36.9 276.7 38.4 276.0 C39.9 275.3 40.6 278.3 42.8 279.2 C45.0 280.1 45.9 279.5 49.2 280.3 C52.5 281.1 55.9 282.4 58.7 283.2 C61.5 284.0 61.1 284.3 62.7 284.0 C64.3 283.7 64.9 282.4 66.7 281.6 C68.5 280.8 69.9 280.1 71.5 280.0 C73.1 279.9 73.3 281.2 74.6 281.0 C75.9 280.8 76.3 278.7 77.8 278.9 C79.3 279.1 79.5 281.1 81.8 281.9 C84.1 282.7 86.2 283.0 89.0 282.8 C91.8 282.6 92.7 280.6 95.3 280.8 C97.9 281.0 99.6 283.3 101.7 284.0 C103.8 284.7 104.0 284.4 105.6 284.0 C107.2 283.6 107.8 282.2 109.6 281.9 C111.4 281.6 112.5 282.6 114.4 282.5 C116.3 282.4 117.7 281.6 119.0 281.2 C120.3 280.8 119.6 280.2 120.8 280.4 C122.0 280.6 123.1 282.0 125.0 282.3 C126.9 282.6 128.6 283.3 130.3 281.8 C132.0 280.3 132.3 279.6 133.5 275.0 C134.7 270.4 135.0 257.6 136.2 259.3 C137.4 261.0 137.1 277.9 139.2 283.1 C141.3 288.3 144.2 290.0 146.5 284.5 C148.8 279.0 149.2 263.6 150.5 256.0 C151.8 248.4 151.9 244.9 153.0 247.5 C154.1 250.1 154.3 264.7 155.8 268.5 C157.3 272.3 158.5 273.4 160.2 266.3 C161.9 259.2 162.3 242.5 164.0 233.8 C165.7 225.1 166.3 219.8 168.4 224.0 C170.5 228.2 172.1 256.7 174.3 254.4 C176.5 252.1 177.7 220.8 179.3 212.8 C180.9 204.8 180.9 207.3 182.3 215.4 C183.7 223.5 184.7 245.3 186.2 252.2 C187.7 259.1 188.4 249.0 189.5 249.0 C190.6 249.0 190.6 247.8 191.5 252.0 C192.4 256.2 192.5 266.7 193.8 269.6 C195.1 272.5 196.2 270.3 198.0 266.3 C199.8 262.3 201.1 252.0 202.5 250.0 C203.9 248.0 204.0 257.2 205.0 256.6 C206.0 256.0 206.4 244.3 207.5 247.0 C208.6 249.7 209.3 271.4 210.5 270.0 C211.7 268.6 212.3 250.7 213.5 240.0 C214.7 229.3 215.4 209.8 216.6 217.9 C217.8 226.0 218.1 274.2 219.2 279.5 C220.3 284.8 220.7 247.6 222.0 244.0 C223.3 240.4 224.2 262.6 225.5 262.0 C226.8 261.4 227.3 240.2 228.5 241.0 C229.7 241.8 230.4 261.7 231.5 266.0 C232.6 270.3 233.1 261.2 234.0 262.0 C234.9 262.8 235.1 268.0 236.0 270.0 C236.9 272.0 237.5 272.4 238.5 272.0 C239.5 271.6 240.0 268.4 241.0 268.0 C242.0 267.6 242.5 269.2 243.5 270.0 C244.5 270.8 244.9 272.2 246.0 272.0 C247.1 271.8 247.8 269.0 249.0 269.0 C250.2 269.0 250.8 272.2 252.0 272.0 C253.2 271.8 253.6 273.1 255.0 268.0 C256.4 262.9 257.6 246.0 259.0 247.0 C260.4 248.0 260.9 271.1 262.0 273.0 C263.1 274.9 263.2 256.5 264.5 256.5 C265.8 256.5 266.9 271.4 268.4 273.0 C269.9 274.6 270.1 263.7 271.6 264.4 C273.1 265.1 274.0 275.1 275.5 276.2 C277.0 277.3 277.2 270.7 278.7 270.0 C280.2 269.3 281.0 272.4 282.6 273.0 C284.2 273.6 284.7 272.5 286.5 273.0 C288.3 273.5 289.4 274.5 291.3 275.5 C293.2 276.5 293.8 282.0 296.0 277.8 C298.2 273.6 300.2 254.3 302.3 255.0 C304.4 255.7 304.8 276.3 306.3 281.0 C307.8 285.7 307.6 282.3 309.4 277.8 C311.2 273.3 313.1 258.7 315.0 259.0 C316.9 259.3 317.1 282.8 318.9 279.4 C320.7 276.0 322.2 243.6 324.0 242.3 C325.8 241.0 326.6 269.3 327.6 273.0 C328.6 276.7 328.0 259.5 329.0 260.5 C330.0 261.5 331.0 275.1 332.3 277.8 C333.6 280.5 334.3 274.6 335.5 273.9 C336.7 273.2 336.9 274.8 338.0 274.5 C339.1 274.2 339.7 272.3 341.0 272.3 C342.3 272.3 343.0 271.6 344.2 274.7 C345.4 277.8 345.9 288.9 347.0 287.3 C348.1 285.7 348.7 270.3 349.7 266.8 C350.7 263.3 350.9 275.2 352.0 270.0 C353.1 264.8 353.4 240.2 355.0 241.5 C356.6 242.8 358.3 272.3 360.0 276.2 C361.7 280.1 362.1 262.8 363.4 260.5 C364.7 258.2 365.1 263.3 366.3 265.2 C367.5 267.1 368.4 268.1 369.4 270.0 C370.4 271.9 370.3 274.6 371.3 274.7 C372.3 274.8 372.6 269.7 374.2 270.7 C375.8 271.7 377.0 278.9 378.9 279.4 C380.8 279.9 382.0 274.8 383.6 273.0 C385.2 271.2 385.5 274.4 386.8 270.7 C388.1 267.0 388.9 262.2 390.0 255.0 C391.1 247.8 391.4 233.6 392.3 235.4 C393.2 237.2 393.5 259.2 394.6 264.0 C395.7 268.8 396.2 270.4 397.8 258.9 C399.4 247.4 400.6 209.4 402.3 208.0 C404.0 206.6 404.9 243.4 406.0 252.2 C407.1 261.0 406.7 258.9 407.5 251.0 C408.3 243.1 409.0 220.2 409.9 213.5 C410.8 206.8 410.4 226.2 411.8 218.0 C413.2 209.8 415.4 165.6 416.8 173.5 C418.2 181.4 417.8 259.2 418.5 256.4 C419.2 253.6 419.6 164.5 420.4 159.7 C421.2 154.9 421.9 223.6 422.6 232.9 C423.3 242.2 422.9 199.7 423.7 205.0 C424.5 210.3 425.5 267.1 426.7 259.0 C427.9 250.9 428.3 165.2 429.5 165.2 C430.7 165.2 431.3 250.0 432.8 259.0 C434.3 268.0 435.1 211.7 437.0 209.4 C438.9 207.2 440.6 242.1 442.0 248.0 C443.4 253.9 442.8 237.3 443.9 238.4 C445.0 239.5 445.9 252.5 447.2 253.6 C448.5 254.7 448.6 244.0 450.2 244.0 C451.8 244.0 453.3 258.3 454.9 253.6 C456.5 248.9 456.6 224.6 457.8 220.8 C459.0 217.0 459.8 236.9 461.0 235.0 C462.2 233.1 462.6 208.4 463.8 211.3 C465.0 214.2 465.7 238.3 466.8 249.2 C467.9 260.1 468.0 262.9 469.2 264.6 C470.4 266.3 471.1 259.2 472.8 257.5 C474.5 255.8 475.8 254.7 477.5 256.4 C479.2 258.1 479.3 264.6 481.0 265.8 C482.7 267.0 483.9 263.3 485.8 262.3 C487.7 261.3 489.0 262.0 490.5 261.1 C492.0 260.2 491.8 262.6 493.0 258.0 C494.2 253.4 494.8 238.5 496.5 238.6 C498.2 238.7 499.7 252.4 501.2 258.7 C502.7 265.0 502.4 268.9 503.6 269.4 C504.8 269.9 505.5 269.5 507.0 261.0 C508.5 252.5 509.2 234.8 510.7 227.9 C512.2 221.0 513.5 227.5 514.2 227.4"/><path d="M545.0 273.0 C545.8 268.6 547.0 258.6 548.7 251.6 C550.4 244.6 551.5 240.8 553.4 238.6 C555.3 236.4 556.4 241.5 558.2 241.0 C560.0 240.5 560.5 237.9 562.0 236.0 C563.5 234.1 564.2 232.2 565.3 231.5 C566.4 230.8 566.3 228.4 567.5 232.5 C568.7 236.6 569.5 244.8 571.2 251.6 C572.9 258.4 574.1 261.2 576.0 265.8 C577.9 270.4 578.9 272.7 580.7 274.0 C582.5 275.3 582.6 274.2 585.0 272.3 C587.4 270.4 590.1 266.0 592.5 264.6 C594.9 263.2 594.8 264.6 596.5 265.3 C598.2 266.0 598.9 267.9 600.8 268.2 C602.7 268.5 603.9 266.9 605.6 267.0 C607.3 267.1 607.7 267.8 609.0 268.8 C610.3 269.8 611.4 271.2 612.0 271.8"/>
</g>
<!-- Not worn -->
<rect x="29.500" y="296" width="25.800" height="6.800" fill="#1f4a5a" fill-opacity=".78"/>
<text x="31" y="301.600" font-family="Liberation Sans" font-size="5.800" fill="#fff" letter-spacing="-.1">Not worn</text>
<!-- sunrise icon -->
<rect x="142" y="285" width="17" height="16.800" rx="1" fill="#119be6"/>
<g fill="#fff"><path d="M146.800 294.900a3.500 3.500 0 0 1 7 0z"/><rect x="143" y="295.700" width="14.700" height="1.400"/>
<g stroke="#fff" stroke-width="1.100"><path d="M150.300 289.800v-2M147.300 290.900l-1.200-1.700M153.300 290.900l1.200-1.700M145.300 293.200l-1.700-1.100M155.300 293.200l1.700-1.100"/></g></g>
<!-- red walker icon -->
<rect x="158.900" y="285" width="13.700" height="16.800" rx="1" fill="#dc0a20"/><rect x="158.900" y="285" width="2" height="16.800" fill="#dc0a20"/>
<g fill="#fff" transform="translate(134.400 60.300)"><circle cx="31.500" cy="227" r="1.500"/><path d="M30.300 228.900h2.200l.9 2.600 1.200 1-.5.800-1.500-1.100-.4-1 -.2 2.200 1.500 2.500.5 2.300-1 .2-.6-2.200-1.300-1.900-.6 2.300-1.400 1.900-.8-.6 1.300-1.800.5-4.800-.9.800-.3 1.600-.9-.2.400-2.100z"/></g>
<!-- training icon -->
<rect x="399.700" y="284.900" width="17.400" height="17.100" rx="1.200" fill="#dc0a20"/>
<g fill="#fff"><circle cx="408.200" cy="286.900" r="1.150"/><rect x="404.700" y="288.100" width="7" height="1.600"/><rect x="402.600" y="287.300" width="1.300" height="3.200"/><rect x="412.600" y="287.300" width="1.300" height="3.200"/><rect x="406.300" y="288.100" width="3.900" height="10.700" rx=".5"/></g>
<!-- moon icon -->
<rect x="571.200" y="285.100" width="16.600" height="16.600" rx="1" fill="#14a3ea"/>
<path d="M581.600 288.500a4.800 4.800 0 1 0 3 7.900a4.250 4.250 0 0 1 -3 -7.900z" fill="#fff"/>
<!-- pointers -->
<g fill="#111"><path d="M148.800 303.800h3l-1.500 2.300z"/><path d="M162.300 303.800h3l-1.500 2.300z"/><path d="M406.500 303.800h3l-1.500 2.300z"/><path d="M578.800 303.800h3l-1.500 2.300z"/></g>
<!-- top-right box -->
<rect x="594" y="151.800" width="14.900" height="14.500" rx="2" fill="#fff"/>
<rect x="597" y="154.900" width="9" height="2.600" rx=".8" fill="none" stroke="#111" stroke-width="1.100"/>
<path d="M601.500 159.200l2.200 2.300h-1.500v2.200h-1.400v-2.200h-1.500z" fill="#111"/>
<!-- axis -->
<rect x="24" y="306.300" width="588.500" height="2.600" fill="#262626"/>
<g fill="#ea0e34"><rect x="163.500" y="306.300" width="22.300" height="2.600"/><rect x="407.700" y="306.300" width="35.600" height="2.600"/></g>
<g fill="#8a2be2"><rect x="215.600" y="306.300" width="3" height="2.600"/><rect x="304" y="306.300" width="1.600" height="2.600"/><rect x="392.300" y="306.300" width="1.600" height="2.600"/><rect x="401.800" y="306.300" width="4.200" height="2.600"/><rect x="444.600" y="306.300" width="1.800" height="2.600"/><rect x="453.800" y="306.300" width="14" height="2.600"/><rect x="510.800" y="306.300" width="3.800" height="2.600"/></g>
<g stroke="#cfcfcf" stroke-width=".7"><path d="M19.6 308.900v3.100M44.2 308.900v3.100M68.9 308.900v3.100M93.5 308.900v3.100M118.2 308.900v3.100M142.8 308.900v3.100M167.5 308.900v3.100M192.1 308.900v3.100M216.8 308.900v3.100M241.4 308.900v3.100M266.1 308.900v3.100M290.8 308.900v3.100M315.4 308.900v3.100M340.1 308.900v3.100M364.7 308.900v3.100M389.4 308.900v3.100M414.0 308.900v3.100M438.6 308.900v3.100M463.3 308.900v3.100M487.9 308.900v3.100M512.6 308.900v3.100M537.2 308.900v3.100M561.9 308.900v3.100M586.5 308.900v3.100M611.2 308.900v3.100"/></g>
<!-- clock -->
<circle cx="26" cy="320.200" r="4.600" fill="none" stroke="#8a8a8a" stroke-width=".8"/>
<path d="M26.300 317.300v3.200h-2.600" fill="none" stroke="#8a8a8a" stroke-width=".8"/>
<!-- tag pointers -->
<g fill="#6a33b5"><path d="M144.800 313l2.200-3.300 2.200 3.300z"/><path d="M345.300 313l2.200-3.300 2.200 3.300z"/><path d="M418 313l2.200-3.300 2.200 3.300z"/></g>
</svg>
<div class="ax" style="left:58.9px">02</div><div class="ax" style="left:108.2px">04</div><div class="ax" style="left:157.5px">06</div><div class="ax" style="left:206.8px">08</div><div class="ax" style="left:256.1px">10</div><div class="ax" style="left:305.4px">12</div><div class="ax" style="left:354.7px">14</div><div class="ax" style="left:404.0px">16</div><div class="ax" style="left:453.3px">18</div><div class="ax" style="left:502.6px">20</div><div class="ax" style="left:551.9px">22</div>
<div class="tag" style="left:127px;width:39.500px"><svg style="position:absolute;left:6px;top:2.800px" width="7" height="7" viewBox="0 0 7 7"><path d="M4.300 .7a2.900 2.900 0 1 0 1.600 4.900a2.700 2.700 0 0 1 -1.600 -4.900z" fill="#fff"/></svg><span style="left:14.500px"><b>49</b> bpm</span></div>
<div class="tag" style="left:327.500px;width:41.500px"><svg style="position:absolute;left:5.500px;top:2.500px" width="7" height="7" viewBox="0 0 7 7"><circle cx="3.500" cy="3.500" r="1.600" fill="#fff" fill-opacity=".85"/><circle cx="3.500" cy="3.500" r="2.900" fill="#fff" fill-opacity=".22"/><g stroke="#fff" stroke-width=".6" stroke-opacity=".35"><path d="M3.500 .4v1M3.500 5.600v1M.4 3.500h1M5.600 3.500h1M1.300 1.300l.7.700M5 5l.7.700M5.700 1.300l-.7.700M2 5l-.7.700"/></g></svg><span style="left:14.500px"><b>48</b> bpm</span></div>
<div class="tag" style="left:402.600px;width:35.400px"><span style="left:4.400px"><b>172</b> bpm</span></div>
<!-- CARDS -->
<div class="card" style="left:19.500px;top:335px;width:593px;height:172px"></div>
<div style="left:216.500px;top:335px;width:1px;height:172px;background:#f1f1f1"></div>
<div style="left:413.500px;top:335px;width:1px;height:172px;background:#f1f1f1"></div>
<!-- card 1: health benefits -->
<svg style="position:absolute;left:19px;top:335px" width="198" height="172" viewBox="19 335 198 172">
 <path d="M35.600 346.600v6.800l-4.800-3.400z" fill="#cfcfcf"/>
 <path d="M200.200 346.600v6.800l4.800-3.400z" fill="#555"/>
 <!-- body -->
 <g fill="none" stroke="#b2b2b2" stroke-width=".850" stroke-linejoin="round">
  <circle cx="62.800" cy="377.300" r="7.200"/>
  <path d="M58 388.600c-3 .3-5.500 2-6.800 5.500l-10.500 20.500c-2.800 4.300-3.200 5.700-2.400 6.200 1 .6 2.400-.4 4.600-3.200l10.800-15.500c.3 6 .3 11.500 .1 17 -.2 13 -.3 27 .3 40.500 .1 1.700 1 2.500 2.600 2.500h2c1.500 0 2.300-.8 2.400-2.400l.5-33.500c0-.9 .4-1.300 1.200-1.300s1.200 .4 1.200 1.300l.5 33.500c.1 1.600 .9 2.400 2.400 2.400h2c1.600 0 2.500-.8 2.600-2.500 .6-13.500 .5-27.500 .3-40.500 -.2-5.500 -.2-11 .1-17l10.800 15.500c2.200 2.800 3.600 3.800 4.600 3.200 .8-.5 .4-1.900-2.400-6.200l-10.500-20.500c-1.300-3.500-3.800-5.200-6.800-5.500z"/>
  <path d="M53.800 400.500c.6 4 .8 7 .5 10.500M71.800 400.500c-.6 4-.8 7-.5 10.500"/>
 </g>
 <circle cx="62.800" cy="366.200" r="4.500" fill="#fff" stroke="#7fd6df" stroke-width=".8"/>
 <circle cx="62.800" cy="366.200" r="2.700" fill="#0d7f8f"/>
 <circle cx="62.800" cy="377.300" r="2.700" fill="#0fbfd6"/>
 <circle cx="75.800" cy="371.600" r="2.700" fill="#66e6f3"/>
 <circle cx="62.800" cy="398.800" r="2.700" fill="#0fbfd6"/>
 <circle cx="62.800" cy="413.500" r="2.700" fill="#0fbfd6"/>
 <circle cx="67.600" cy="431.500" r="2.700" fill="#66e6f3"/>
 <circle cx="67.500" cy="447.100" r="2.700" fill="#0fbfd6"/>
 <!-- callout -->
 <path d="M91.700 386h110v32h-110v-19.300l-3.900-4.100 3.900-4.100z" fill="#e3e3e3"/>
 <!-- legend -->
 <circle cx="93.400" cy="460.400" r="1.500" fill="#66e6f3"/>
 <circle cx="93.400" cy="468.900" r="1.500" fill="#0fbfd6"/>
 <circle cx="93.400" cy="477.500" r="1.500" fill="#0d7f8f"/>
 <circle cx="114" cy="496.800" r="1.500" fill="#555"/>
 <circle cx="121.700" cy="496.800" r="1.500" fill="#dedede"/>
</svg>
<div class="ct" style="left:91.300px;top:344.300px">Health benefits</div>
<div class="tx" style="left:91.500px;top:364px">Today's physical activity has these</div>
<div class="tx" style="left:91.500px;top:372.500px">positive effects:</div>
<div class="tx" style="left:96.300px;top:390px;font-weight:bold;font-size:6.150px;color:#111">Longer life expectancy</div>
<div class="tx" style="left:96.300px;top:399.800px">Being physically active can add years</div>
<div class="tx" style="left:96.300px;top:408.400px">to your life.</div>
<div class="tx" style="left:100.300px;top:457px">Helps</div>
<div class="tx" style="left:100.300px;top:465.500px">Promotes</div>
<div class="tx" style="left:100.300px;top:474px">Strongly improves</div>
<!-- card 2: sleep -->
<svg style="position:absolute;left:217px;top:335px" width="197" height="172" viewBox="217 335 197 172">
 <path d="M233.600 346.600v6.800l-4.800-3.400z" fill="#cfcfcf"/>
 <path d="M397.800 346.600v6.800l4.800-3.400z" fill="#555"/>
 <path d="M233.800 362.800a5 5 0 1 0 2.600 9a4.800 4.800 0 0 1 -2.600 -9z" fill="#1a9be2"/>
 <g stroke="#e2e2e2" stroke-width=".7"><path d="M242 385.100h158.500M242 406.700h158.500M242 428h158.500M294 385.100v64M347 385.100v64"/></g>
 <path d="M242 449.200h158.500" stroke="#d2d2d2" stroke-width=".8"/>
 <g stroke="#1a9be2" stroke-width="1.300" fill="none" stroke-linecap="round"><path d="M270.300 394.100l48.500 5.400M323.200 399.700l47.800-1"/></g>
 <g fill="#1a9be2"><circle cx="268.200" cy="393.800" r="1.250"/><circle cx="321" cy="399.800" r="1.250"/><circle cx="373.200" cy="398.700" r="1.250"/></g>
 <circle cx="300.700" cy="496.700" r="1.500" fill="#555"/>
 <g fill="#dedede"><circle cx="308.400" cy="496.700" r="1.500"/><circle cx="316.100" cy="496.700" r="1.500"/><circle cx="323.800" cy="496.700" r="1.500"/><circle cx="331.500" cy="496.700" r="1.500"/></g>
</svg>
<div class="ct" style="left:265px;width:100px;text-align:center;top:344.300px">Sleep</div>
<div class="tx" style="left:241.400px;top:364.200px;font-weight:bold;color:#111;font-size:6.200px">Night sleep (h)</div>
<div class="tx" style="left:229px;width:8px;text-align:center;top:381.700px">8</div>
<div class="tx" style="left:229px;width:8px;text-align:center;top:403.300px">5</div>
<div class="tx" style="left:229px;width:8px;text-align:center;top:424.600px">2</div>
<div class="tx" style="left:248px;width:40px;text-align:center;top:455px">20 May</div>
<div class="tx" style="left:301px;width:40px;text-align:center;top:455px">21 May</div>
<div class="tx" style="left:353.500px;width:40px;text-align:center;top:455px">22 May</div>
<div style="left:361.500px;top:472.500px;font-size:7.100px;line-height:8px;color:#1a9be2;letter-spacing:-.1px">View report</div>
<!-- card 3: activity score -->
<svg style="position:absolute;left:414px;top:335px" width="199" height="172" viewBox="414 335 199 172">
 <path d="M424.700 384v83.300h178.500" fill="none" stroke="#cfcfcf" stroke-width=".8"/>
 <rect x="430.600" y="439.600" width="24.600" height="27.700" fill="#fff" stroke="#c9c9c9" stroke-width=".7"/>
 <rect x="466" y="441" width="25" height="26.300" fill="#dde8e8" stroke="#c5d2d2" stroke-width=".5"/>
 <rect x="501.500" y="452.200" width="24.800" height="15.100" fill="#6beaf5"/>
 <rect x="537.100" y="461" width="24.500" height="6.300" fill="#0dc3d4"/>
 <rect x="572.800" y="459.300" width="24.400" height="8" fill="#0e8a9a"/>
 <g fill="#555">
  <!-- lying -->
  <circle cx="448.800" cy="432.300" r="1.200"/><path d="M437 438.500l3.500-.5 2.500-3.200 4-.2 1 3 -1 .2-.7-1.800-1.800.1 .3 2.100 2.500.3v.8h-10.300z"/>
  <!-- sitting -->
  <circle cx="476.500" cy="427.200" r="1.400"/><path d="M475 429.300h2.600l.8 4 2.600.4.300 6.800h-1.200l-.3-5.300-3.800-.3-.6-2.500-.2 8.100h-1v-9.500z M472.800 431h1v9.500h-1z"/>
  <!-- standing -->
  <circle cx="513.800" cy="437.600" r="1.400"/><path d="M511.700 439.700h4.200l.5 5.300h-1l-.4-3 .1 9.200h-1.100l-.2-5.300-.2 5.300h-1.100l.1-9.200-.4 3h-1z"/>
  <!-- walking -->
  <circle cx="549.300" cy="446.500" r="1.400"/><path d="M548 448.600h2.500l1 3 1.400 1.100-.6.900-1.700-1.200-.4-1.100-.2 2.400 1.700 2.800.6 3.400-1.100.2-.7-3.200-1.500-2.100-.7 2.600-1.600 2.700-.9-.6 1.500-2.600.5-5.500-1 .9-.3 1.800-1-.2.400-2.400z"/>
  <!-- running -->
  <circle cx="585.800" cy="444.500" r="1.400"/><path d="M581.800 447.200l3.400-.8 1.800 1.400 1 2 1.700.5-.3 1.100-2.300-.6-1-1.400-.8 2.300 1.600 1.700-.6 4.700-1.100-.1.400-4-2-1.600-1.100 2.500-2.900.9-.3-1.100 2.200-.800 1.300-3.100.6-2.200-1.300.4-.8 1.700-1-.5z"/>
 </g>
</svg>
<div class="ct" style="left:463.500px;width:100px;text-align:center;top:344.300px">Activity score</div>
<div class="tx" style="left:424px;top:366.200px;color:#9a9a9a;font-size:6px">Duration</div>
<div class="tx" style="left:422.500px;width:40px;text-align:center;top:475px;font-size:6px">7 h 33 min</div>
<div class="tx" style="left:458.500px;width:40px;text-align:center;top:475px;font-size:6px">7 h 18 min</div>
<div class="tx" style="left:494px;width:40px;text-align:center;top:475px;font-size:6px">4 h 07 min</div>
<div class="tx" style="left:529.700px;width:40px;text-align:center;top:475px;font-size:6px">1 h 49 min</div>
<div class="tx" style="left:565.300px;width:40px;text-align:center;top:475px;font-size:6px">2 h 13 min</div>

</body>
</html>
